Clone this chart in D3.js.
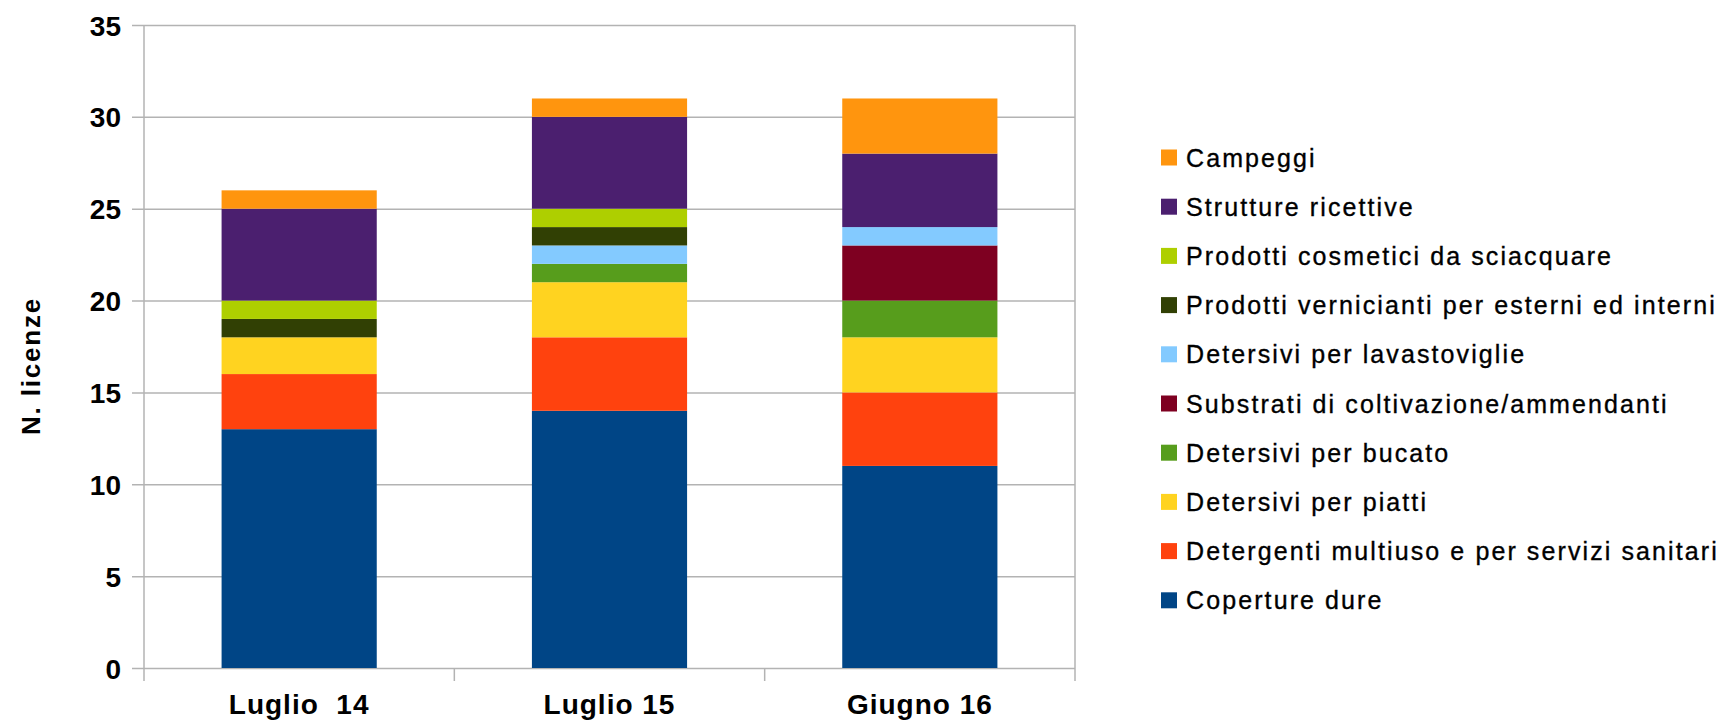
<!DOCTYPE html>
<html>

<head>
	<meta charset="utf-8">
	<title>N. licenze per gruppo di prodotti</title>
	<script src="https://cdn.jsdelivr.net/npm/d3@7/dist/d3.min.js"></script>
	<style>
		body {
			margin: 0;
			background: #fff;
		}

		text {
			font-family: "Liberation Sans", Arial, sans-serif;
			fill: #000;
		}

		.grid line {
			stroke: #b3b3b3;
			stroke-width: 1.5px;
		}

		.ytick text {
			font-size: 28px;
			font-weight: bold;
		}

		.xlabel {
			font-size: 28px;
			font-weight: bold;
			letter-spacing: 1px;
			white-space: pre;
		}

		.legend text {
			font-size: 25px;
			letter-spacing: 2.1px;
			stroke: #000;
			stroke-width: 0.35px;
		}
	</style>
</head>

<body>
	<svg id="chart" width="1723" height="720"></svg>

	<script>
		// periodi sull'asse x
		var categories = ['Luglio  14', 'Luglio 15', 'Giugno 16'];

		// gruppi di prodotti, dal basso verso l'alto
		var series = [
			'Coperture dure',
			'Detergenti multiuso e per servizi sanitari',
			'Detersivi per piatti',
			'Detersivi per bucato',
			'Substrati di coltivazione/ammendanti',
			'Detersivi per lavastoviglie',
			'Prodotti vernicianti per esterni ed interni',
			'Prodotti cosmetici da sciacquare',
			'Strutture ricettive',
			'Campeggi'
		];

		// valori per serie, uno per periodo
		var coperture = [13, 14, 11];
		var detergenti = [3, 4, 4];
		var piatti = [2, 3, 3];
		var bucato = [0, 1, 2];
		var substrati = [0, 0, 3];
		var lavastoviglie = [0, 1, 1];
		var vernicianti = [1, 1, 0];
		var cosmetici = [1, 1, 0];
		var strutture = [5, 5, 4];
		var campeggi = [1, 1, 3];

		var yTicks = [0, 5, 10, 15, 20, 25, 30, 35];

		var colors = ['#004586', '#ff420e', '#ffd320', '#579d1c', '#7e0021',
			'#83caff', '#314004', '#aecf00', '#4b1f6f', '#ff950e'];

		var values = [coperture, detergenti, piatti, bucato, substrati,
			lavastoviglie, vernicianti, cosmetici, strutture, campeggi];

		var rows = categories.map(function (c, i) {
			var r = { cat: c };
			series.forEach(function (s, j) { r[s] = values[j][i]; });
			return r;
		});

		var svg = d3.select('#chart'),
			plotLeft = 144, plotRight = 1075, plotTop = 25, plotBottom = 668;

		var x = d3.scaleBand()
			.domain(categories)
			.range([plotLeft, plotRight])
			.paddingInner(0.5)
			.paddingOuter(0.25);

		var y = d3.scaleLinear()
			.domain([0, 35])
			.range([plotBottom, plotTop]);

		var color = d3.scaleOrdinal()
			.domain(series)
			.range(colors);

		// griglia orizzontale + etichette asse y
		var yAxis = svg.append('g')
			.attr('class', 'grid ytick')
			.attr('transform', 'translate(' + plotLeft + ',0)')
			.call(d3.axisLeft(y)
				.tickValues(yTicks)
				.tickSizeInner(-(plotRight - plotLeft))
				.tickSizeOuter(0)
				.tickPadding(23));
		yAxis.select('.domain').remove();
		yAxis.selectAll('.tick line').attr('x1', -12);
		yAxis.selectAll('.tick text').attr('dy', '0.36em');

		// bordo sinistro, destro e separatori categorie
		var step = x.step();
		var seps = d3.range(categories.length + 1).map(function (i) { return plotLeft + i * step; });
		svg.append('g')
			.attr('class', 'grid')
			.selectAll('line')
			.data(seps)
			.enter()
			.append('line')
			.attr('x1', function (d) { return d; })
			.attr('x2', function (d) { return d; })
			.attr('y1', function (d, i) { return (i == 0 || i == seps.length - 1) ? y(35) : plotBottom; })
			.attr('y2', plotBottom + 13);

		// barre impilate
		var stacked = d3.stack().keys(series)(rows);

		svg.append('g')
			.selectAll('g')
			.data(stacked)
			.enter()
			.append('g')
			.attr('fill', function (d) { return color(d.key); })
			.selectAll('rect')
			.data(function (d) { return d; })
			.enter()
			.append('rect')
			.attr('x', function (d) { return x(d.data.cat); })
			.attr('width', x.bandwidth())
			.attr('y', function (d) { return y(d[1]); })
			.attr('height', function (d) { return y(d[0]) - y(d[1]); });

		// etichette categorie
		svg.append('g')
			.selectAll('text')
			.data(categories)
			.enter()
			.append('text')
			.attr('class', 'xlabel')
			.attr('x', function (d) { return x(d) + x.bandwidth() / 2; })
			.attr('y', 714)
			.attr('text-anchor', 'middle')
			.text(function (d) { return d; });

		// titolo asse y
		svg.append('text')
			.attr('transform', 'translate(40,366) rotate(-90)')
			.attr('text-anchor', 'middle')
			.style('font-size', '26px')
			.style('font-weight', 'bold')
			.style('letter-spacing', '1.8px')
			.text('N. licenze');

		// legenda (ordine inverso)
		var legend = svg.append('g')
			.attr('class', 'legend')
			.selectAll('g')
			.data(series.slice().reverse())
			.enter()
			.append('g')
			.attr('transform', function (d, i) { return 'translate(1161,' + (157.5 + i * 49.2) + ')'; });

		legend.append('rect')
			.attr('x', 0)
			.attr('y', -8)
			.attr('width', 16)
			.attr('height', 16)
			.attr('fill', function (d) { return color(d); });

		legend.append('text')
			.attr('x', 25)
			.attr('y', 9)
			.text(function (d) { return d; });
	</script>
</body>

</html>
